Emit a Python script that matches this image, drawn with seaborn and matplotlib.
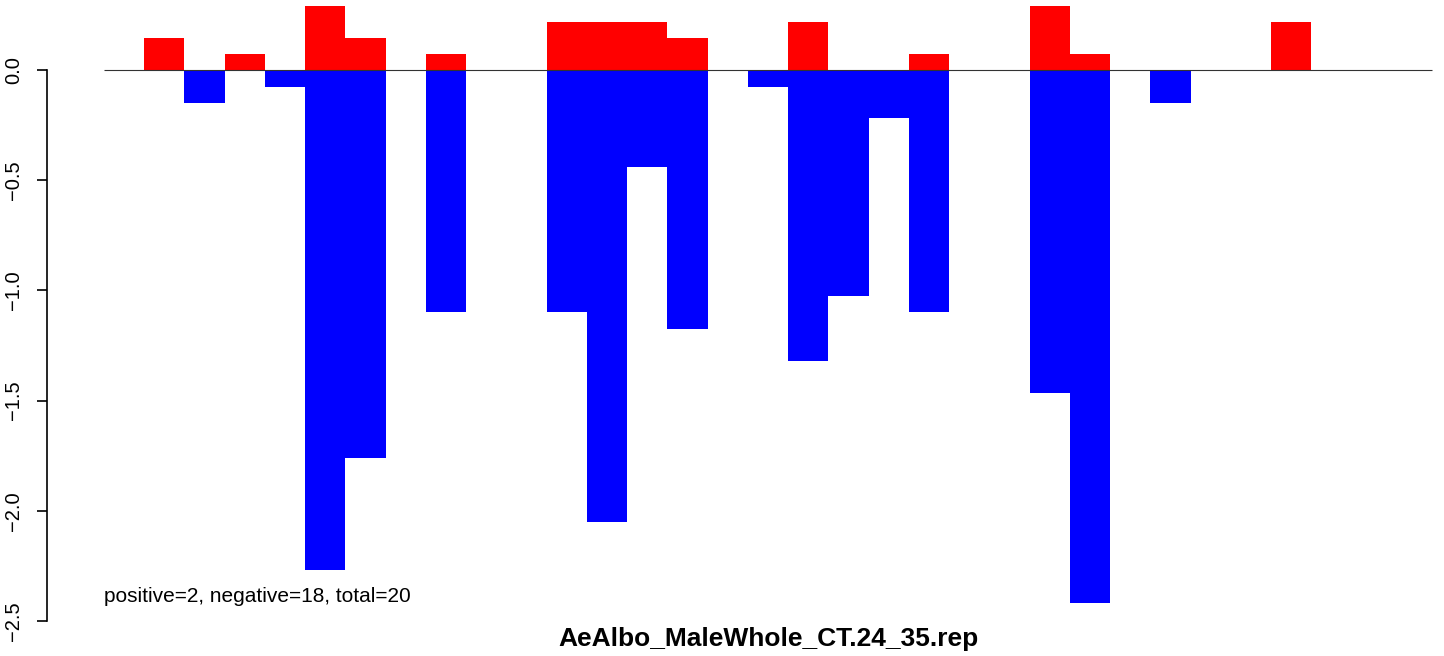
import numpy as np
import pandas as pd
import seaborn as sns
import matplotlib
matplotlib.use('Agg')
import matplotlib.pyplot as plt

# values per bin (33 bins), positive part and negative part
bins = list(range(33))
pos_vals = [0, 0.145, 0, 0.073, 0, 0.29, 0.145, 0, 0.073, 0, 0,
            0.218, 0.218, 0.218, 0.145, 0, 0, 0.218, 0, 0, 0.073, 0,
            0, 0.29, 0.073, 0, 0, 0, 0, 0.218, 0, 0, 0]
neg_vals = [0, 0, -0.15, 0, -0.075, -2.27, -1.76, 0, -1.10, 0, 0,
            -1.10, -2.05, -0.44, -1.175, 0, -0.075, -1.32, -1.025, -0.22, -1.10, 0,
            0, -1.465, -2.42, 0, -0.15, 0, 0, 0, 0, 0, 0]
y_ticks = [0.0, -0.5, -1.0, -1.5, -2.0, -2.5]
title = 'AeAlbo_MaleWhole_CT.24_35.rep'
note = 'positive=2, negative=18, total=20'

df = pd.DataFrame({'bin': bins, 'pos': pos_vals, 'neg': neg_vals})

sns.set_style('white')
plt.rcParams['font.family'] = ['Liberation Sans', 'DejaVu Sans']
plt.rcParams['text.color'] = 'black'
plt.rcParams['ytick.color'] = 'black'

fig = plt.figure(figsize=(14.44, 6.56), dpi=100)
W, H = 1444, 656
ax = fig.add_axes([47 / W, (H - 621) / H, (1440 - 47) / W, 621 / H])

sns.barplot(data=df, x='bin', y='pos', color='#FF0000', width=1,
            linewidth=0, saturation=1, ax=ax)
sns.barplot(data=df, x='bin', y='neg', color='#0000FF', width=1,
            linewidth=0, saturation=1, ax=ax)

ax.hlines(0, -0.5, 32.5, color='#333333', linewidth=0.8, zorder=3)

bw = 40.25
ax.set_xlim((47 - 104) / bw - 0.5, (1440 - 104) / bw - 0.5)
ax.set_ylim(-2.5, 70 / 220.4)

for s in ['top', 'right', 'bottom']:
    ax.spines[s].set_visible(False)
ax.spines['left'].set_bounds(-2.5, 0)
ax.spines['left'].set_linewidth(1.2)
ax.spines['left'].set_color('black')

ax.set_xticks([])
ax.set_yticks(y_ticks)
ax.set_yticklabels([f'{v:.1f}'.replace('-', '\u2212') for v in y_ticks],
                   rotation=90, va='center', fontsize=14.5, color='black')
ax.tick_params(axis='y', left=True, length=7, width=1.2, pad=10, color='black')
ax.set_xlabel('')
ax.set_ylabel('')

ax.text(-0.5, -2.39, note, fontsize=15, ha='left', va='center', color='black')
fig.text(768 / W, 1 - 639 / H, title, fontsize=19, fontweight='bold',
         ha='center', va='center', color='black')

fig.savefig('out.png', dpi=100)
